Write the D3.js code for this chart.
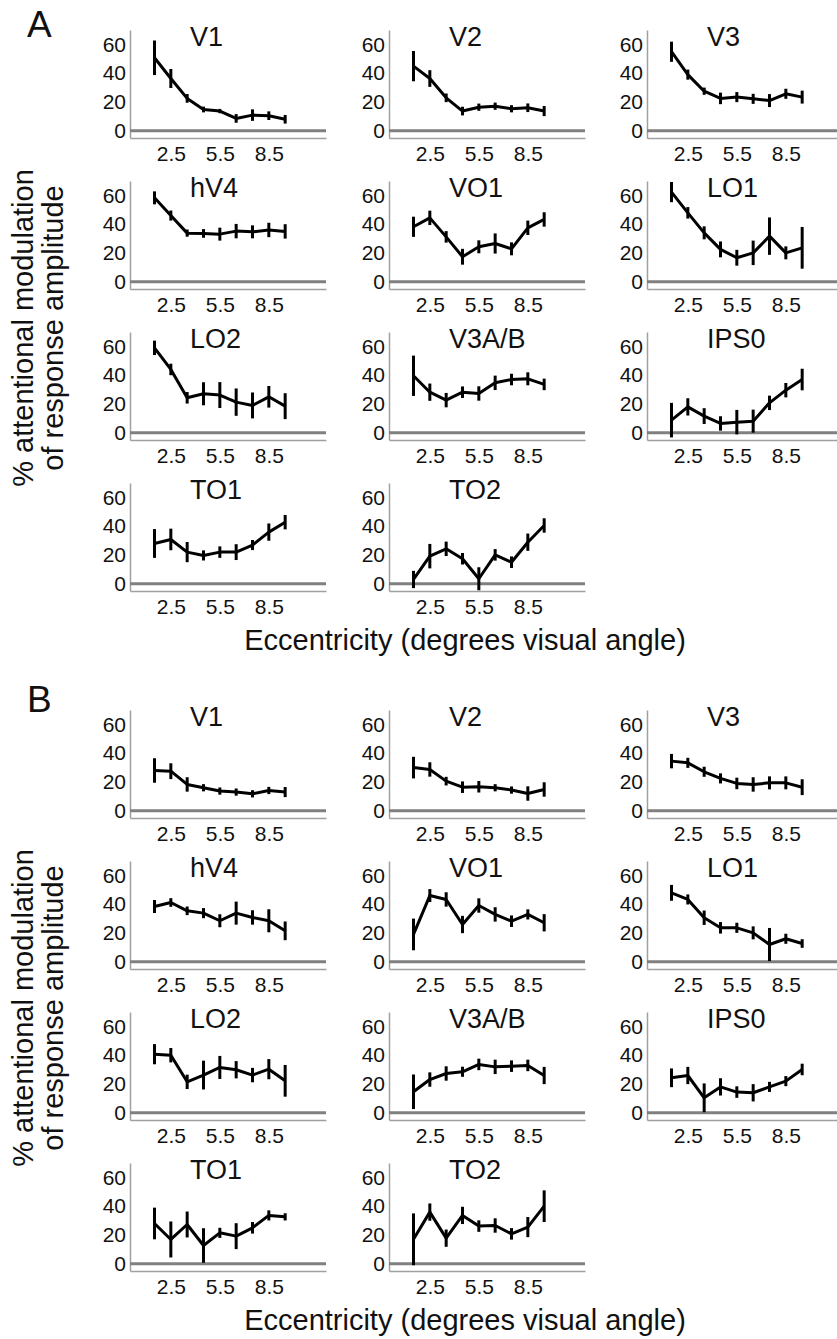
<!DOCTYPE html>
<html>
<head>
<meta charset="utf-8">
<script src="https://cdn.jsdelivr.net/npm/d3@7"></script>
<style>
  body { margin: 0; background: #fff; }
  text { font-family: "Liberation Sans", Arial, sans-serif; fill: #111; }
</style>
</head>
<body>
<div id="chart"></div>
<script>
var width = 837, height = 1339;

// eccentricity bins and ticks
var ecc = [1.5, 2.5, 3.5, 4.5, 5.5, 6.5, 7.5, 8.5, 9.5];
var xTicks = [2.5, 5.5, 8.5];
var yTicks = [0, 20, 40, 60];
var areas = ["V1", "V2", "V3", "hV4", "VO1", "LO1", "LO2", "V3A/B", "IPS0", "TO1", "TO2"];

// panel A: mean and error (half bar length), one row per area
var meanA = [
  [50.7, 36.3, 22.5, 14.8, 13.7, 8.6, 10.9, 10.5, 8],
  [44.9, 36.3, 22.9, 13.7, 16.4, 17.1, 15.3, 16, 13.7],
  [54.9, 39, 27.5, 22.5, 23.4, 22.2, 21, 25.7, 23.4],
  [58.3, 46, 33.8, 33.6, 33.1, 35.2, 34.7, 36, 35],
  [38.2, 44.4, 31.2, 17.4, 24.3, 26.6, 22.9, 37.5, 43.3],
  [62.3, 47.9, 34, 22.5, 16.7, 20.1, 31.7, 20.1, 23.6],
  [59, 44, 24.3, 27.1, 26.2, 21.3, 19, 25, 18.5],
  [39.6, 28.2, 22.7, 28.2, 27.3, 34.7, 37, 37.5, 33.6],
  [8.8, 18, 11.6, 6.5, 7.4, 8.1, 20.8, 29.6, 37],
  [28, 30.8, 22, 19.7, 22, 22, 26.9, 35.9, 42.8],
  [3, 19.2, 24.3, 17.4, 3.5, 20.1, 15, 28.9, 40.5]
];
var errA = [
  [12, 6.6, 3, 2, 1.5, 3, 4, 3, 3],
  [10.5, 5.8, 3, 3, 2.5, 2.5, 2.5, 3, 3.5],
  [7, 3.5, 2.5, 4, 3.5, 3.5, 4.5, 3.5, 4.5],
  [4.5, 3.5, 2.5, 3, 4.5, 5, 4.5, 5, 5],
  [7, 5, 4, 5.5, 4.5, 7, 4.5, 5, 5],
  [7, 4, 4.5, 5.5, 5.5, 8.5, 13, 4.5, 14.5],
  [5, 4, 4, 8, 9, 9.5, 9, 7.5, 9],
  [14, 6, 5, 4, 5, 5, 4, 4.5, 4],
  [12, 6, 5.5, 5, 8.5, 8, 5, 5, 7.5],
  [10, 7.5, 7, 3.5, 4, 5.5, 3.5, 6, 5],
  [6, 8.5, 5, 4, 8, 4, 4, 6, 5]
];

// panel B
var meanB = [
  [28, 27.5, 18.3, 16, 13.7, 13, 11.8, 14.1, 13],
  [30, 28.7, 20.6, 16.4, 16.7, 16, 14.4, 12, 14.8],
  [34.5, 33.3, 27.1, 22.5, 19, 18.3, 19.4, 19.4, 16.4],
  [38.4, 41.2, 35.4, 33.8, 28.5, 33.8, 30.8, 28.5, 21.5],
  [19, 46, 43.3, 25.9, 39.1, 32.9, 28.2, 32.9, 27.1],
  [47.9, 43.3, 30.6, 23.6, 23.6, 20.1, 12, 16, 12.7],
  [40.7, 40, 21.5, 26.2, 31.5, 29.9, 26.2, 30.3, 22.2],
  [14.6, 23.1, 27.3, 28.5, 33.6, 31.9, 32.4, 32.9, 25.9],
  [24.3, 25.9, 10.4, 18, 14.4, 13.9, 18, 22, 30.1],
  [28, 16.9, 27.3, 12.7, 21.5, 19.2, 25, 33.6, 32.6],
  [17, 35.9, 17.8, 33.6, 26.2, 26.6, 20.8, 25.5, 40]
];
var errB = [
  [8.5, 5.5, 5, 2.5, 2.5, 2.5, 2.5, 2.5, 3.5],
  [7.5, 5, 3, 4, 4, 2.5, 2.5, 5, 5],
  [5, 3.5, 3.5, 3.5, 4, 5, 4.5, 4.5, 5.5],
  [4.5, 3, 3, 3.5, 4.5, 8, 5, 8, 6.5],
  [11, 4.5, 5, 6, 5, 5, 4, 3.5, 6],
  [5.5, 3.5, 5, 4, 3.5, 4.5, 11.5, 3.5, 3],
  [7, 5, 5, 10, 8, 6, 5, 7, 11],
  [12, 5, 5, 3.5, 4, 5, 4, 4, 6],
  [6.5, 6, 10, 6, 4, 6, 3.5, 3.5, 4],
  [11, 12.5, 9, 12, 3.5, 9, 4, 3.5, 2.5],
  [18, 6, 6, 6, 4, 5, 4, 7, 11]
];

// layout
var colX = [130, 389, 647];
var rowTop = [30, 181, 332, 483];
var plotW = 196, plotH = 108;
var panels = [
  {letter: "A", dy: 0, letterY: 37, means: meanA, errs: errA},
  {letter: "B", dy: 680, letterY: 712, means: meanB, errs: errB}
];

var x = d3.scaleLinear().domain([0, 12]).range([0, plotW]);
var y = d3.scaleLinear().domain([-5, 70]).range([plotH, 0]);
var line = d3.line().x(function(d) { return x(d[0]); }).y(function(d) { return y(d[1]); });

var svg = d3.select("#chart").append("svg")
  .attr("width", width)
  .attr("height", height);

panels.forEach(function(p) {
  var gp = svg.append("g").attr("transform", "translate(0," + p.dy + ")");

  gp.append("text")
    .attr("x", 27).attr("y", p.letterY - p.dy)
    .attr("font-size", 37)
    .text(p.letter);

  // y label, two lines
  var yl = gp.append("text")
    .attr("transform", "translate(0,328) rotate(-90)")
    .attr("text-anchor", "middle")
    .attr("font-size", 29);
  yl.append("tspan").attr("x", 0).attr("y", 33).text("% attentional modulation");
  yl.append("tspan").attr("x", 0).attr("y", 63).text("of response amplitude");

  gp.append("text")
    .attr("x", 465).attr("y", 650)
    .attr("text-anchor", "middle")
    .attr("font-size", 29)
    .text("Eccentricity (degrees visual angle)");

  areas.forEach(function(name, i) {
    var g = gp.append("g")
      .attr("transform", "translate(" + colX[i % 3] + "," + rowTop[Math.floor(i / 3)] + ")");

    var ya = g.append("g")
      .call(d3.axisLeft(y).tickValues(yTicks).tickSize(0).tickSizeOuter(0).tickPadding(4));
    ya.select(".domain").attr("stroke", "#a0a0a0").attr("stroke-width", 1.5);
    ya.selectAll("text").attr("font-size", 21).attr("font-family", null).attr("fill", "#111");

    var xa = g.append("g")
      .attr("transform", "translate(0," + plotH + ")")
      .call(d3.axisBottom(x).tickValues(xTicks).tickFormat(d3.format(".1f"))
        .tickSize(0).tickSizeOuter(0).tickPadding(8));
    xa.select(".domain").attr("stroke", "#a0a0a0").attr("stroke-width", 1.5);
    xa.selectAll("text").attr("font-size", 21).attr("font-family", null).attr("fill", "#111");

    // zero reference line
    g.append("line")
      .attr("x1", 0).attr("x2", plotW)
      .attr("y1", y(0)).attr("y2", y(0))
      .attr("stroke", "#808080").attr("stroke-width", 3);

    g.append("text")
      .attr("x", 60).attr("y", 16)
      .attr("font-size", 27)
      .text(name);

    var pts = ecc.map(function(e, j) { return [e, p.means[i][j], p.errs[i][j]]; });

    g.append("path")
      .datum(pts)
      .attr("d", line)
      .attr("fill", "none")
      .attr("stroke", "#000")
      .attr("stroke-width", 3)
      .attr("stroke-linejoin", "round");

    g.selectAll(".err")
      .data(pts).enter()
      .append("line")
      .attr("class", "err")
      .attr("x1", function(d) { return x(d[0]); })
      .attr("x2", function(d) { return x(d[0]); })
      .attr("y1", function(d) { return y(d[1] - d[2]); })
      .attr("y2", function(d) { return y(d[1] + d[2]); })
      .attr("stroke", "#000")
      .attr("stroke-width", 3);
  });
});
</script>
</body>
</html>
